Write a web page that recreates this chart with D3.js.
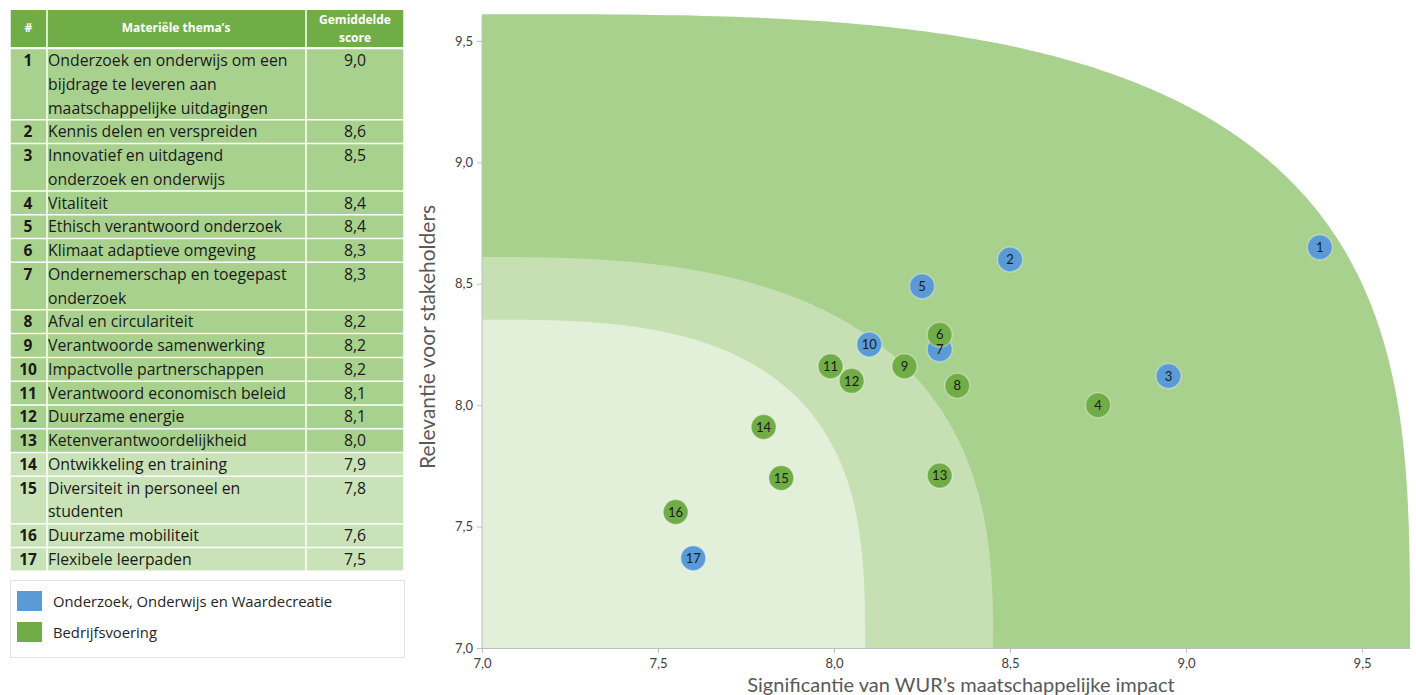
<!DOCTYPE html>
<html>
<head>
<meta charset="utf-8">
<script src="https://cdn.jsdelivr.net/npm/d3@7"></script>
<style>
  body { margin: 0; background: #fff; }
  svg { display: block; font-family: "Open Sans", sans-serif; }
</style>
</head>
<body>
<div id="chart"></div>
<script>
var width = 1416,
    height = 695;

// table contents
var themeIds = [1, 2, 3, 4, 5, 6, 7, 8, 9, 10, 11, 12, 13, 14, 15, 16, 17];
var themeLines = [
  ["Onderzoek en onderwijs om een", "bijdrage te leveren aan", "maatschappelijke uitdagingen"],
  ["Kennis delen en verspreiden"],
  ["Innovatief en uitdagend", "onderzoek en onderwijs"],
  ["Vitaliteit"],
  ["Ethisch verantwoord onderzoek"],
  ["Klimaat adaptieve omgeving"],
  ["Ondernemerschap en toegepast", "onderzoek"],
  ["Afval en circulariteit"],
  ["Verantwoorde samenwerking"],
  ["Impactvolle partnerschappen"],
  ["Verantwoord economisch beleid"],
  ["Duurzame energie"],
  ["Ketenverantwoordelijkheid"],
  ["Ontwikkeling en training"],
  ["Diversiteit in personeel en", "studenten"],
  ["Duurzame mobiliteit"],
  ["Flexibele leerpaden"]
];
var scores = ["9,0", "8,6", "8,5", "8,4", "8,4", "8,3", "8,3", "8,2", "8,2", "8,2", "8,1", "8,1", "8,0", "7,9", "7,8", "7,6", "7,5"];

// scatter values (x = significantie impact, y = relevantie stakeholders)
var impact    = [9.38, 8.50, 8.95, 8.75, 8.25, 8.30, 8.30, 8.35, 8.20, 8.10, 7.99, 8.05, 8.30, 7.80, 7.85, 7.55, 7.60];
var relevance = [8.65, 8.60, 8.12, 8.00, 8.49, 8.29, 8.23, 8.08, 8.16, 8.25, 8.16, 8.10, 7.71, 7.91, 7.70, 7.56, 7.37];
var groups    = ["O", "O", "O", "B", "O", "B", "O", "B", "B", "O", "B", "B", "B", "B", "B", "B", "O"];

var xTicks = [7.0, 7.5, 8.0, 8.5, 9.0, 9.5];
var yTicks = [7.0, 7.5, 8.0, 8.5, 9.0, 9.5];

var legendLabels = ["Onderzoek, Onderwijs en Waardecreatie", "Bedrijfsvoering"];

// background zones: radius in data units from (7,7), squareness exponent
var zoneRx  = [2.636, 1.452, 1.088];
var zoneRy  = [2.61, 1.61, 1.352];
var zoneExp = [3.3, 2.75, 3];
var zoneFill = ["#a9d18e", "#c6e0b4", "#e2efd9"];

var groupColor = { "O": "#5b9bd5", "B": "#70ad47" };

var svg = d3.select("#chart")
  .append("svg")
  .attr("width", width)
  .attr("height", height);

/* ---------- table ---------- */
var tbl = svg.append("g");
var colX = [10, 47, 306, 404];
var headTop = 10, headBottom = 47;
var linePitch = 23.76;

tbl.append("rect")
  .attr("x", colX[0]).attr("y", headTop)
  .attr("width", colX[3] - colX[0]).attr("height", headBottom - headTop)
  .attr("fill", "#70ad47");

function headText(tx, ty, s) {
  tbl.append("text").attr("x", tx).attr("y", ty)
    .attr("text-anchor", "middle").attr("fill", "#fff")
    .attr("font-size", "12px").attr("font-weight", "bold").text(s);
}
headText((colX[0] + colX[1]) / 2, 32, "#");
headText(176, 32, "Materiële thema’s");
headText(355, 24, "Gemiddelde");
headText(355, 42, "score");

var rowTop = [];
var yy = 48.5;
themeLines.forEach(function(d) {
  rowTop.push(yy);
  yy += d.length * linePitch;
});
var tableBottom = yy;

var rows = tbl.selectAll("g.row")
  .data(themeIds)
  .enter()
  .append("g")
  .attr("class", "row")
  .attr("transform", function(d, i) { return "translate(0," + rowTop[i] + ")"; });

rows.append("rect")
  .attr("x", colX[0])
  .attr("width", colX[3] - colX[0])
  .attr("height", function(d, i) { return themeLines[i].length * linePitch; })
  .attr("fill", function(d, i) { return i < 13 ? "#a9d18e" : "#c9e2b8"; });

rows.append("text")
  .attr("x", 28)
  .attr("y", 17.5)
  .attr("text-anchor", "middle")
  .attr("font-size", "15.5px")
  .attr("font-weight", "bold")
  .attr("fill", "#1a1a1a")
  .text(function(d) { return d; });

rows.append("text")
  .attr("x", 48)
  .attr("font-size", "15.8px")
  .attr("fill", "#1a1a1a")
  .each(function(d, i) {
    d3.select(this).selectAll("tspan")
      .data(themeLines[i])
      .enter()
      .append("tspan")
      .attr("x", 48)
      .attr("y", function(t, j) { return 17.5 + j * linePitch; })
      .text(function(t) { return t; });
  });

rows.append("text")
  .attr("x", 355)
  .attr("y", 17.5)
  .attr("text-anchor", "middle")
  .attr("font-size", "15.8px")
  .attr("fill", "#1a1a1a")
  .text(function(d, i) { return scores[i]; });

// white grid lines
rowTop.concat([tableBottom]).forEach(function(t) {
  tbl.append("line")
    .attr("x1", colX[0]).attr("x2", colX[3])
    .attr("y1", t).attr("y2", t)
    .attr("stroke", "#fff").attr("stroke-width", 1.5);
});
colX.forEach(function(c) {
  tbl.append("line")
    .attr("x1", c).attr("x2", c)
    .attr("y1", headTop).attr("y2", tableBottom)
    .attr("stroke", "#fff").attr("stroke-width", 1.5);
});

/* ---------- legend ---------- */
var leg = svg.append("g");
leg.append("rect")
  .attr("x", 10.5).attr("y", 580.5)
  .attr("width", 394).attr("height", 77)
  .attr("fill", "#fff")
  .attr("stroke", "#e3e3e3");

leg.selectAll("rect.sw")
  .data(legendLabels)
  .enter()
  .append("rect")
  .attr("class", "sw")
  .attr("x", 17)
  .attr("y", function(d, i) { return 591 + i * 31; })
  .attr("width", 25)
  .attr("height", 20)
  .attr("fill", function(d, i) { return i === 0 ? groupColor.O : groupColor.B; });

leg.selectAll("text")
  .data(legendLabels)
  .enter()
  .append("text")
  .attr("x", 53)
  .attr("y", function(d, i) { return 607 + i * 31; })
  .attr("font-size", "14.8px")
  .attr("fill", "#262626")
  .text(function(d) { return d; });

/* ---------- scatter ---------- */
var x = d3.scaleLinear().domain([7, 9.636]).range([482, 1410]);
var y = d3.scaleLinear().domain([7, 9.6]).range([648, 16.6]);

function zonePath(k) {
  var n = zoneExp[k];
  var pts = [[7, 7]];
  d3.range(0, 201).forEach(function(s) {
    var t = s / 200 * Math.PI / 2;
    var cx = Math.pow(Math.cos(t), 2 / n);
    var cy = Math.pow(Math.sin(t), 2 / n);
    pts.push([7 + zoneRx[k] * cx, 7 + zoneRy[k] * cy]);
  });
  return d3.line()
    .x(function(p) { return x(p[0]); })
    .y(function(p) { return y(p[1]); })(pts) + "Z";
}

var zones = svg.append("g");
zones.selectAll("path")
  .data(zoneFill)
  .enter()
  .append("path")
  .attr("d", function(d, i) { return zonePath(i); })
  .attr("fill", function(d) { return d; });

var fmt = function(v) { return d3.format(".1f")(v).replace(".", ","); };

var xAxis = svg.append("g")
  .attr("transform", "translate(0," + y(7) + ")")
  .call(d3.axisBottom(x).tickValues(xTicks).tickFormat(fmt).tickSize(5).tickSizeOuter(0));
var yAxis = svg.append("g")
  .attr("transform", "translate(" + x(7) + ",0)")
  .call(d3.axisLeft(y).tickValues(yTicks).tickFormat(fmt).tickSize(5).tickSizeOuter(0));

[xAxis, yAxis].forEach(function(a) {
  a.select(".domain").attr("stroke", "#bfbfbf");
  a.selectAll(".tick line").attr("stroke", "#bfbfbf");
  a.selectAll(".tick text")
    .attr("fill", "#404040")
    .attr("font-size", "13px")
    .attr("font-family", "Lato, sans-serif");
});
xAxis.selectAll(".tick text").attr("dy", "0.95em");
yAxis.selectAll(".tick text").attr("x", -9);
yAxis.select(".domain").attr("d", "M0," + y(9.6) + "V" + y(7));

svg.append("text")
  .attr("x", 961)
  .attr("y", 692)
  .attr("text-anchor", "middle")
  .attr("font-family", "Lato, sans-serif")
  .attr("font-size", "20px")
  .attr("fill", "#595959")
  .text("Significantie van WUR’s maatschappelijke impact");

svg.append("text")
  .attr("transform", "translate(435,337) rotate(-90)")
  .attr("text-anchor", "middle")
  .attr("font-family", "Lato, sans-serif")
  .attr("font-size", "21px")
  .attr("fill", "#595959")
  .text("Relevantie voor stakeholders");

// draw blue first, then green on top
var order = d3.range(themeIds.length).sort(function(a, b) {
  return (groups[a] === "O" ? 0 : 1) - (groups[b] === "O" ? 0 : 1) || a - b;
});

var dots = svg.append("g");
dots.selectAll("circle")
  .data(order)
  .enter()
  .append("circle")
  .attr("cx", function(i) { return x(impact[i]); })
  .attr("cy", function(i) { return y(relevance[i]); })
  .attr("r", 12.5)
  .attr("fill", function(i) { return groupColor[groups[i]]; })
  .attr("stroke", "rgba(255,255,255,0.35)")
  .attr("stroke-width", 1.5);

dots.selectAll("text")
  .data(order)
  .enter()
  .append("text")
  .attr("x", function(i) { return x(impact[i]); })
  .attr("y", function(i) { return y(relevance[i]); })
  .attr("dy", "0.36em")
  .attr("text-anchor", "middle")
  .attr("font-family", "Lato, sans-serif")
  .attr("font-size", "13px")
  .attr("fill", "#1a1a1a")
  .text(function(i) { return themeIds[i]; });
</script>
</body>
</html>
